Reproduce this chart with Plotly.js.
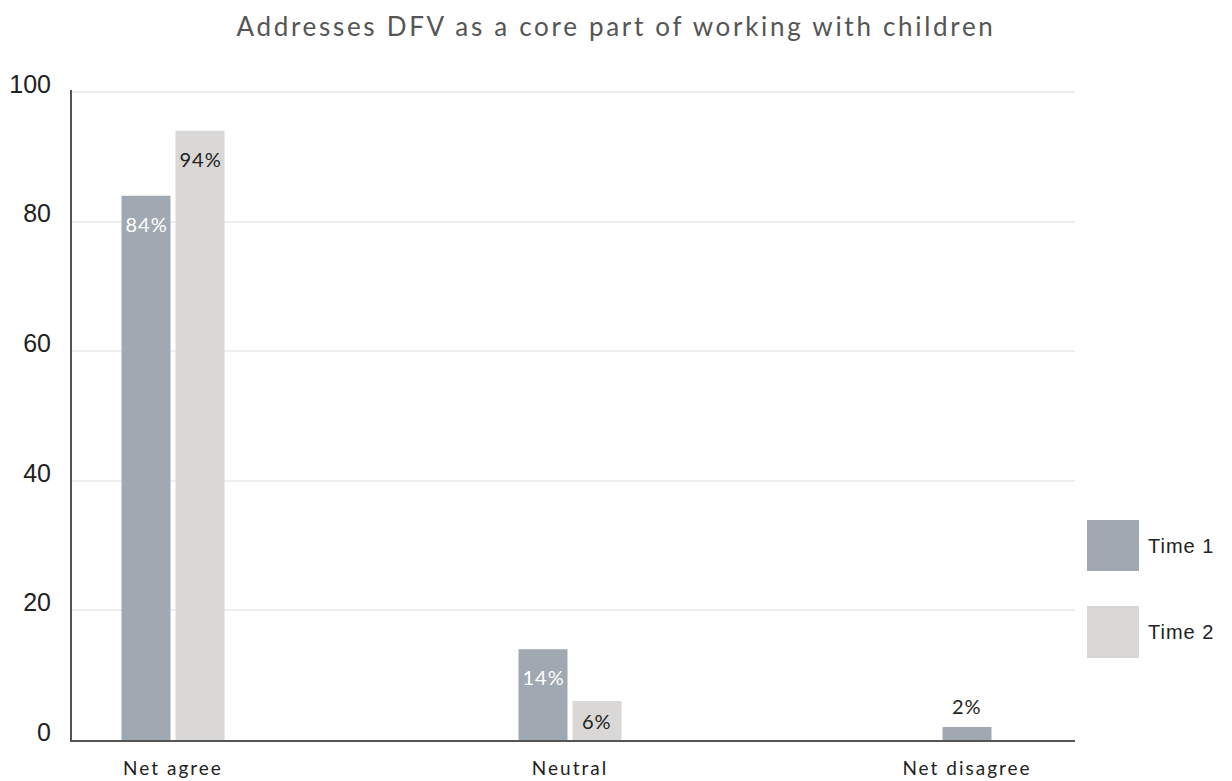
<!DOCTYPE html>
<html>
<head>
<meta charset="utf-8">
<script src="https://cdn.plot.ly/plotly-3.0.1.min.js"></script>
<style>
html,body{margin:0;padding:0;background:#fff;}
#chart{width:1232px;height:781px;}
#chart .gtitle{letter-spacing:2.7px;}
#chart .xtick text{letter-spacing:2px;}
#chart .annotation-text{letter-spacing:1px;}
</style>
</head>
<body>
<div id="chart"></div>
<script>
const categories = ["Net agree", "Neutral", "Net disagree"];
const seriesNames = ["Time 1", "Time 2"];
const time1 = [84, 14, 2];
const time2 = [94, 6, 0];
const yTicks = [0, 20, 40, 60, 80, 100];

const colors = ["#a0a9b2", "#d9d8d6"];
const labelInside = ["#ffffff", "#222222"];

// geometry (styles)
const W = 1232, H = 781;
const m = {l: 72, r: 157, t: 90, b: 41};
const plotW = W - m.l - m.r, plotH = H - m.t - m.b;
const firstCenterPx = 173, pxPerCat = 397;
const xr = [-(firstCenterPx - m.l) / pxPerCat, (plotW - (firstCenterPx - m.l)) / pxPerCat];
const yTop = 100.3;
const barPx = 49, gapPx = 5;
const bw = barPx / pxPerCat, gw = gapPx / pxPerCat;
const pxPerUnit = plotH / yTop;

const series = [time1, time2];
function offsetsFor(si) {
  return categories.map((c, i) => {
    const other = series[1 - si][i];
    if (!other) return -bw / 2;
    return si === 0 ? -(bw + gw / 2) : gw / 2;
  });
}

const traces = series.map((vals, si) => ({
  type: "bar",
  name: seriesNames[si],
  x: categories,
  y: vals.map(v => v === 0 ? null : v),
  width: categories.map(() => bw),
  offset: offsetsFor(si),
  marker: {color: colors[si], line: {width: 0}},
  hoverinfo: "x+y+name",
  showlegend: false
}));

const annotations = [];
series.forEach((vals, si) => {
  const offs = offsetsFor(si);
  vals.forEach((v, i) => {
    if (!v) return;
    const hpx = v * pxPerUnit;
    const inside = hpx > 30;
    annotations.push({
      x: i + offs[i] + bw / 2, xref: "x",
      y: v, yref: "y",
      text: v + "%",
      showarrow: false,
      xanchor: "center", yanchor: "middle",
      yshift: inside ? -Math.min(28, hpx / 2) : 21,
      font: {family: "Lato, sans-serif", size: 20, color: inside ? labelInside[si] : "#222222"}
    });
  });
});

// legend drawn as large swatches
const shapes = [];
const legY = [[520, 571], [606, 658]];
seriesNames.forEach((n, si) => {
  const y0 = (H - m.b - legY[si][1]) / plotH, y1 = (H - m.b - legY[si][0]) / plotH;
  shapes.push({type: "rect", xref: "paper", yref: "paper",
    x0: (1087 - m.l) / plotW, x1: (1139 - m.l) / plotW, y0: y0, y1: y1,
    fillcolor: colors[si], line: {width: 0}});
  annotations.push({xref: "paper", yref: "paper", x: (1149 - m.l) / plotW, y: (y0 + y1) / 2,
    xanchor: "left", yanchor: "middle", showarrow: false, text: n,
    font: {family: "Liberation Sans, Arial, sans-serif", size: 20, color: "#222222"}});
});

const layout = {
  width: W, height: H,
  margin: m,
  paper_bgcolor: "#ffffff", plot_bgcolor: "#ffffff",
  title: {text: "Addresses DFV as a core part of working with children",
    x: 0.5, xref: "container", xanchor: "center", y: 1 - 27 / H, yref: "container", yanchor: "middle",
    font: {family: "Lato, sans-serif", size: 26, color: "#555555"}},
  xaxis: {type: "category", range: xr, showgrid: false, zeroline: false,
    showline: true, linecolor: "#555555", linewidth: 2, ticks: "",
    tickfont: {family: "Lato, sans-serif", size: 19, color: "#222222"},
    ticklabelstandoff: 10, fixedrange: true},
  yaxis: {range: [0, yTop], tickvals: yTicks, ticktext: yTicks.map(String),
    showgrid: true, gridcolor: "#eeeeee", gridwidth: 2, zeroline: false,
    showline: true, linecolor: "#555555", linewidth: 2, ticks: "",
    tickfont: {family: "Liberation Sans, Arial, sans-serif", size: 25, color: "#222222"},
    ticklabelstandoff: 14, ticklabelshift: -8, fixedrange: true},
  barmode: "overlay",
  showlegend: false,
  shapes: shapes,
  annotations: annotations
};

Plotly.newPlot("chart", traces, layout, {displayModeBar: false, staticPlot: true});
</script>
</body>
</html>
